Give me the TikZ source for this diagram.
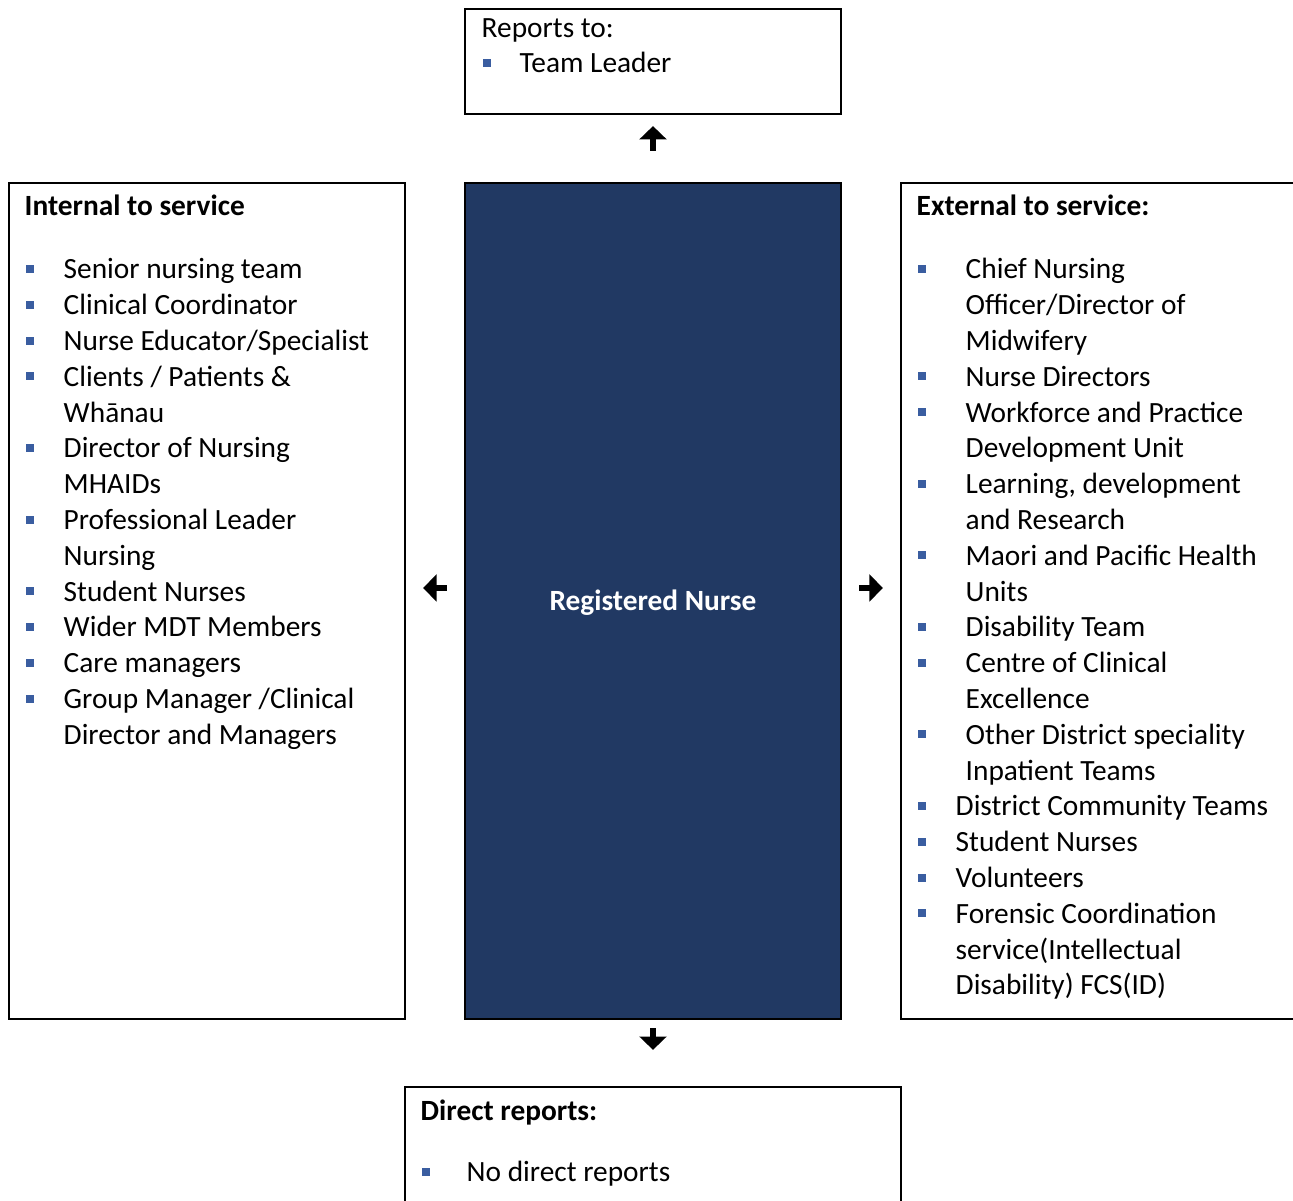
\documentclass[tikz,border=0pt]{standalone}
\usepackage{fontspec}
\setmainfont{Carlito}
\usetikzlibrary{arrows.meta}

\definecolor{rnnavy}{RGB}{33,57,99}
\definecolor{bulletblue}{RGB}{58,93,160}

\tikzset{
  box/.style={draw, line width=0.6pt, rectangle, inner sep=0pt},
  txt/.style={anchor=base west, inner sep=0pt, align=left, font=\fontsize{8.35}{10.2}\selectfont},
  txtb/.style={txt, font=\fontsize{8.35}{10.2}\selectfont\bfseries},
  glyph/.style={line width=1.5pt, -{Triangle[length=3.8pt,width=7.6pt]}},
  bul/.style={fill=bulletblue}
}

\begin{document}
\begin{tikzpicture}[x=0.01cm,y=-0.01cm]
  \useasboundingbox (0,0) rectangle (1293,1201);
  \clip (0,0) rectangle (1293,1201);

  % boxes
  \node[box, minimum width=3.76cm, minimum height=1.05cm] (reports) at (653,61.5) {};
  \node[box, minimum width=3.96cm, minimum height=8.36cm] (internal) at (207,601) {};
  \node[box, fill=rnnavy, minimum width=3.76cm, minimum height=8.36cm] (rn) at (653,601) {};
  \node[box, minimum width=4.10cm, minimum height=8.36cm] (external) at (1106,601) {};
  \node[box, minimum width=4.96cm, minimum height=1.30cm] (direct) at (653,1152) {};

  % arrows
  \draw[glyph, shorten <=0.31cm, shorten >=0.11cm] (rn.north) -- (reports.south);
  \draw[glyph, shorten <=0.17cm, shorten >=0.17cm] ([yshift=0.13cm]rn.west) -- ([yshift=0.13cm]internal.east);
  \draw[glyph, shorten <=0.17cm, shorten >=0.17cm] ([yshift=0.13cm]rn.east) -- ([yshift=0.13cm]external.west);
  \draw[glyph, shorten <=0.08cm, shorten >=0.36cm] (rn.south) -- (direct.north);

  % reports to
  \node[txt] (reptitle) at (481,38) {Reports to:};
  \fill[bul] (483,59) rectangle ++(8,8);
  \node[txt] (repitem) at (519,73) {Team Leader};

  % centre
  \node[txtb, anchor=base, text=white] (rnlabel) at (653,611) {Registered Nurse};

  % internal (first line / last line)
  \node[txtb] (inttitle) at (24,216) {Internal to service};
  \foreach \n/\m/\t in {0/0/{Senior nursing team}, 1/1/{Clinical Coordinator},
      2/2/{Nurse Educator/Specialist}, 3/4/{Clients / Patients \&\\Whānau},
      5/6/{Director of Nursing\\MHAIDs}, 7/8/{Professional Leader\\Nursing},
      9/9/{Student Nurses}, 10/10/{Wider MDT Members}, 11/11/{Care managers},
      12/13/{Group Manager /Clinical\\Director and Managers}} {
    \fill[bul] (26,279+35.8*\n-14) rectangle ++(8,8);
    \node[txt] (int\n) at (63,279+35.8*\m) {\t};
  }

  % external (first line / last line / text x)
  \node[txtb] (exttitle) at (916,216) {External to service:};
  \foreach \n/\m/\x/\t in {0/2/965/{Chief Nursing\\Officer/Director of\\Midwifery},
      3/3/965/{Nurse Directors}, 4/5/965/{Workforce and Practice\\Development Unit},
      6/7/965/{Learning, development\\and Research},
      8/9/965/{Maori and Pacific Health\\Units}, 10/10/965/{Disability Team},
      11/12/965/{Centre of Clinical\\Excellence},
      13/14/965/{Other District speciality\\Inpatient Teams},
      15/15/955/{District Community Teams}, 16/16/955/{Student Nurses},
      17/17/955/{Volunteers},
      18/20/955/{Forensic Coordination\\service(Intellectual\\Disability) FCS(ID)}} {
    \fill[bul] (918,279+35.8*\n-14) rectangle ++(8,8);
    \node[txt] (ext\n) at (\x,279+35.8*\m) {\t};
  }

  % direct reports
  \node[txtb] (dirtitle) at (420,1121) {Direct reports:};
  \fill[bul] (422,1168) rectangle ++(8,8);
  \node[txt] (diritem) at (466,1182) {No direct reports};
\end{tikzpicture}
\end{document}
